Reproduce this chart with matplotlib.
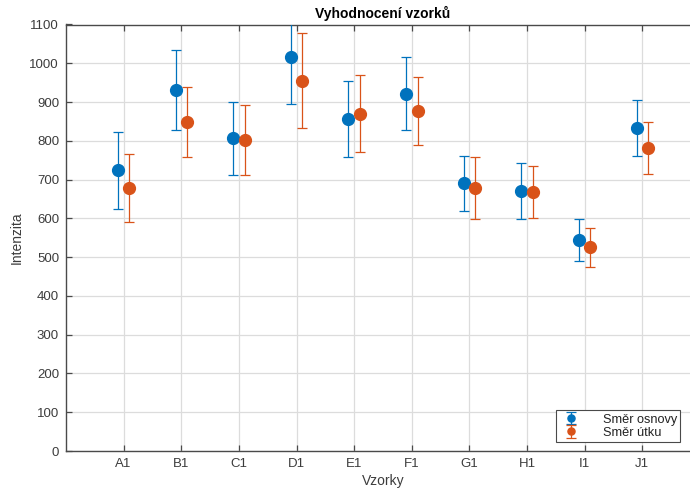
import numpy as np
import matplotlib
matplotlib.use("Agg")
import matplotlib.pyplot as plt

plt.rcParams['font.family'] = ['Liberation Sans', 'DejaVu Sans']

samples = ["A1", "B1", "C1", "D1", "E1", "F1", "G1", "H1", "I1", "J1"]
warp_mean = [724, 930, 806, 1017, 857, 922, 690, 671, 545, 833]
warp_err = [99, 103, 95, 121, 98, 93, 72, 72, 54, 71]
weft_mean = [679, 848, 803, 955, 870, 876, 678, 668, 525, 781]
weft_err = [88, 90, 90, 123, 100, 88, 80, 67, 50, 67]

blue = "#0072BD"
orange = "#D95319"
axis_col = "#4a4a4a"
text_col = "#3c3c3c"

W, H = 690, 492
fig = plt.figure(figsize=(W / 100, H / 100), dpi=100)
left, right, top, bottom = 66, 700, 24.5, 451
ax = fig.add_axes([left / W, (H - bottom) / H, (right - left) / W, (bottom - top) / H])

x = np.arange(1, len(samples) + 1)
ax.errorbar(x - 0.1, warp_mean, yerr=warp_err, fmt='o', color=blue, ecolor=blue,
            markersize=8.5, elinewidth=0.9, capsize=3.6, capthick=0.9,
            label="Směr osnovy", zorder=3)
ax.errorbar(x + 0.1, weft_mean, yerr=weft_err, fmt='o', color=orange, ecolor=orange,
            markersize=8.5, elinewidth=0.9, capsize=3.6, capthick=0.9,
            label="Směr útku", zorder=3)

ax.set_xlim(0, 11)
ax.set_ylim(0, 1100)
ax.set_xticks(x)
ax.set_xticklabels(samples)
ax.set_yticks(np.arange(0, 1101, 100))

ax.grid(True, color="#dcdcdc", linewidth=0.9)
ax.set_axisbelow(True)
for s in ax.spines.values():
    s.set_color(axis_col)
    s.set_linewidth(1.0)
ax.tick_params(direction='in', length=4, width=0.9, color=axis_col,
               labelcolor=text_col, labelsize=9.5, top=True, right=True, pad=5)

ax.set_title("Vyhodnocení vzorků", fontsize=10, fontweight='bold', color='black', pad=5)
ax.set_xlabel("Vzorky", fontsize=10, color=text_col, labelpad=3)
ax.set_ylabel("Intenzita", fontsize=10, color=text_col, labelpad=4)

leg = ax.legend(loc='lower right', bbox_to_anchor=(680 / W, (H - 442) / H),
                bbox_transform=fig.transFigure, fontsize=9.2, frameon=True,
                fancybox=False, edgecolor=axis_col, framealpha=1,
                borderpad=0.25, labelspacing=0.1, handletextpad=1.6,
                handlelength=1.8, borderaxespad=0, markerscale=0.6)
leg.get_frame().set_linewidth(0.8)
for t in leg.get_texts():
    t.set_color("#222222")

fig.savefig("out.png", dpi=100)
